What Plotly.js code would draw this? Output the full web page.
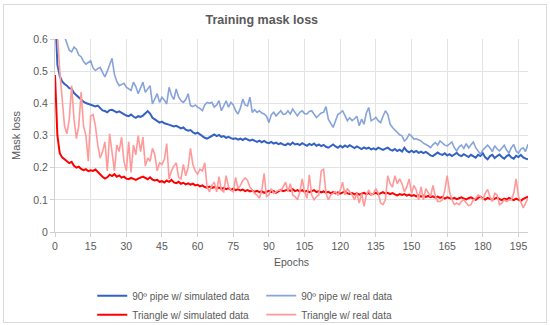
<!DOCTYPE html>
<html>
<head>
<meta charset="utf-8">
<script src="https://cdn.plot.ly/plotly-3.0.1.min.js"></script>
<style>
  html, body { margin: 0; padding: 0; background: #fff; }
  #wrap { position: relative; width: 550px; height: 325px; }
  #chart { width: 550px; height: 325px; }
  #frame { position: absolute; left: 3px; top: 4px; width: 542px; height: 317px; border: 1px solid #D9D9D9; pointer-events: none; }
</style>
</head>
<body>
<div id="wrap"><div id="chart"></div><div id="frame"></div></div>
<script>
// Epoch index 0..199
const epochs = Array.from({length: 200}, (_, i) => i);

const pipeSimulated = [
0.700,0.520,0.485,0.468,0.460,0.455,0.447,0.445,0.432,0.425,
0.420,0.412,0.405,0.401,0.398,0.395,0.392,0.390,0.393,0.385,
0.378,0.376,0.372,0.379,0.380,0.376,0.372,0.375,0.370,0.366,
0.362,0.360,0.365,0.359,0.355,0.360,0.358,0.362,0.370,0.376,
0.368,0.355,0.350,0.345,0.340,0.343,0.338,0.336,0.334,0.332,
0.328,0.330,0.326,0.322,0.325,0.318,0.315,0.317,0.310,0.306,
0.309,0.303,0.297,0.293,0.290,0.295,0.300,0.303,0.298,0.302,
0.296,0.298,0.293,0.296,0.292,0.289,0.291,0.287,0.290,0.286,
0.291,0.288,0.284,0.287,0.283,0.280,0.284,0.279,0.283,0.278,
0.276,0.280,0.275,0.278,0.273,0.276,0.272,0.270,0.275,0.271,
0.278,0.272,0.274,0.270,0.276,0.272,0.268,0.274,0.270,0.275,
0.268,0.272,0.267,0.271,0.265,0.262,0.268,0.272,0.266,0.262,
0.268,0.263,0.269,0.264,0.270,0.265,0.261,0.266,0.262,0.258,
0.263,0.259,0.262,0.257,0.260,0.256,0.262,0.258,0.255,0.259,
0.262,0.256,0.253,0.258,0.252,0.256,0.250,0.262,0.252,0.248,
0.253,0.248,0.252,0.246,0.250,0.245,0.249,0.244,0.238,0.236,
0.243,0.247,0.242,0.240,0.245,0.238,0.242,0.236,0.241,0.246,
0.239,0.236,0.242,0.237,0.233,0.240,0.236,0.231,0.240,0.236,
0.245,0.232,0.226,0.236,0.240,0.230,0.236,0.241,0.233,0.228,
0.236,0.240,0.232,0.228,0.237,0.233,0.240,0.232,0.228,0.226
];

const pipeReal = [
0.800,0.720,0.660,0.630,0.610,0.585,0.565,0.560,0.575,0.568,
0.550,0.545,0.530,0.522,0.528,0.532,0.510,0.502,0.508,0.512,
0.496,0.482,0.500,0.520,0.540,0.490,0.468,0.455,0.458,0.462,
0.450,0.445,0.440,0.466,0.452,0.430,0.448,0.466,0.434,0.445,
0.455,0.398,0.412,0.430,0.403,0.419,0.410,0.398,0.450,0.425,
0.412,0.445,0.420,0.408,0.403,0.412,0.430,0.393,0.390,0.395,
0.388,0.384,0.377,0.395,0.403,0.400,0.403,0.388,0.395,0.408,
0.377,0.392,0.408,0.388,0.403,0.395,0.377,0.367,0.385,0.413,
0.395,0.392,0.419,0.372,0.380,0.372,0.377,0.370,0.367,0.360,
0.340,0.365,0.372,0.361,0.370,0.377,0.366,0.367,0.377,0.367,
0.382,0.370,0.361,0.372,0.377,0.368,0.367,0.375,0.377,0.366,
0.356,0.363,0.370,0.372,0.390,0.351,0.340,0.325,0.345,0.365,
0.370,0.377,0.362,0.346,0.355,0.346,0.352,0.360,0.330,0.351,
0.335,0.370,0.387,0.346,0.350,0.356,0.346,0.340,0.360,0.377,
0.366,0.335,0.325,0.318,0.309,0.302,0.299,0.283,0.290,0.304,
0.298,0.289,0.290,0.286,0.283,0.276,0.273,0.268,0.262,0.272,
0.278,0.270,0.283,0.275,0.270,0.268,0.275,0.280,0.262,0.252,
0.265,0.270,0.260,0.275,0.262,0.270,0.280,0.262,0.252,0.242,
0.255,0.262,0.270,0.262,0.250,0.268,0.258,0.252,0.262,0.270,
0.255,0.245,0.262,0.272,0.252,0.245,0.258,0.262,0.250,0.273
];

const triSimulated = [
0.488,0.300,0.245,0.232,0.226,0.220,0.214,0.218,0.206,0.200,
0.203,0.196,0.192,0.195,0.189,0.192,0.190,0.194,0.186,0.180,
0.172,0.166,0.170,0.178,0.174,0.180,0.172,0.176,0.169,0.172,
0.166,0.164,0.168,0.165,0.162,0.166,0.169,0.172,0.168,0.164,
0.170,0.163,0.160,0.162,0.156,0.158,0.154,0.160,0.156,0.162,
0.154,0.152,0.156,0.150,0.153,0.148,0.151,0.147,0.150,0.145,
0.147,0.142,0.145,0.140,0.138,0.141,0.137,0.140,0.135,0.138,
0.134,0.137,0.133,0.136,0.131,0.135,0.130,0.133,0.129,0.132,
0.127,0.130,0.126,0.129,0.125,0.128,0.124,0.127,0.122,0.125,
0.128,0.124,0.127,0.122,0.126,0.131,0.127,0.130,0.132,0.128,
0.133,0.127,0.130,0.126,0.130,0.125,0.128,0.124,0.127,0.130,
0.124,0.127,0.123,0.126,0.122,0.125,0.121,0.124,0.120,0.123,
0.119,0.122,0.126,0.120,0.118,0.121,0.117,0.120,0.116,0.119,
0.122,0.118,0.121,0.116,0.119,0.122,0.117,0.120,0.124,0.119,
0.122,0.118,0.121,0.117,0.114,0.118,0.115,0.118,0.113,0.116,
0.112,0.115,0.111,0.114,0.110,0.113,0.109,0.112,0.108,0.111,
0.107,0.110,0.106,0.109,0.104,0.108,0.105,0.103,0.106,0.102,
0.105,0.108,0.104,0.101,0.105,0.108,0.104,0.100,0.106,0.110,
0.104,0.101,0.106,0.103,0.100,0.104,0.107,0.102,0.099,0.104,
0.101,0.106,0.102,0.099,0.104,0.100,0.097,0.103,0.107,0.110
];

const triReal = [
0.950,0.620,0.500,0.400,0.330,0.305,0.350,0.455,0.350,0.290,
0.330,0.435,0.330,0.300,0.220,0.360,0.365,0.330,0.270,0.230,
0.250,0.280,0.190,0.305,0.240,0.190,0.270,0.250,0.295,0.220,
0.190,0.280,0.185,0.270,0.240,0.300,0.250,0.295,0.205,0.230,
0.220,0.260,0.240,0.190,0.215,0.210,0.225,0.275,0.165,0.190,
0.205,0.215,0.170,0.165,0.210,0.175,0.200,0.260,0.210,0.190,
0.180,0.195,0.190,0.215,0.140,0.125,0.145,0.155,0.125,0.172,
0.130,0.125,0.175,0.140,0.130,0.125,0.170,0.135,0.145,0.160,
0.168,0.160,0.140,0.130,0.120,0.115,0.105,0.130,0.182,0.110,
0.115,0.135,0.120,0.125,0.130,0.130,0.140,0.155,0.125,0.150,
0.115,0.110,0.100,0.125,0.165,0.125,0.105,0.178,0.115,0.100,
0.110,0.115,0.190,0.195,0.120,0.100,0.115,0.120,0.125,0.115,
0.130,0.155,0.115,0.135,0.125,0.115,0.100,0.120,0.090,0.120,
0.080,0.115,0.130,0.115,0.120,0.135,0.120,0.090,0.085,0.100,
0.175,0.150,0.140,0.175,0.150,0.165,0.150,0.125,0.140,0.165,
0.120,0.145,0.130,0.100,0.140,0.100,0.135,0.120,0.110,0.145,
0.112,0.095,0.095,0.100,0.130,0.175,0.125,0.100,0.085,0.090,
0.085,0.095,0.100,0.090,0.082,0.085,0.100,0.105,0.115,0.110,
0.100,0.120,0.132,0.110,0.095,0.120,0.115,0.085,0.090,0.100,
0.095,0.100,0.100,0.120,0.165,0.110,0.090,0.075,0.090,0.105
];

const seriesNames = [
  '90º pipe w/ simulated data',
  '90º pipe w/ real data',
  'Triangle w/ simulated data',
  'Triangle w/ real data'
];
const xTicks = [0,15,30,45,60,75,90,105,120,135,150,165,180,195];
const yTicks = [0,0.1,0.2,0.3,0.4,0.5,0.6];

const FONT = 'Liberation Sans, Arial, sans-serif';
const GREY = '#595959';

const traces = [
  {x: epochs, y: pipeSimulated, name: seriesNames[0], mode: 'lines',
   line: {color: '#3362C2', width: 2}},
  {x: epochs, y: pipeReal, name: seriesNames[1], mode: 'lines',
   line: {color: '#86A3DB', width: 1.6}},
  {x: epochs, y: triSimulated, name: seriesNames[2], mode: 'lines',
   line: {color: '#FF0000', width: 2}},
  {x: epochs, y: triReal, name: seriesNames[3], mode: 'lines',
   line: {color: '#FF9A9A', width: 1.6}}
];

const layout = {
  width: 550, height: 325,
  margin: {l: 55, r: 22, t: 39, b: 93},
  paper_bgcolor: '#ffffff', plot_bgcolor: '#ffffff',
  font: {family: FONT, color: GREY, size: 10.5},
  title: {text: '<b>Training mask loss</b>', x: 0.476, xanchor: 'center', y: 0.94, yanchor: 'middle',
          font: {family: FONT, size: 12.5, color: GREY}},
  xaxis: {
    range: [0, 199], tickvals: xTicks, ticktext: xTicks.map(String),
    showgrid: true, gridcolor: '#E3E3E3', gridwidth: 1,
    zeroline: false, showline: true, linecolor: '#D0D0D0', linewidth: 1,
    ticks: 'outside', ticklen: 4, tickcolor: '#D0D0D0',
    tickfont: {size: 10.5, color: GREY},
    title: {text: 'Epochs', font: {size: 10.5, color: GREY}, standoff: 8}
  },
  yaxis: {
    range: [0, 0.6], tickvals: yTicks, ticktext: yTicks.map(String),
    showgrid: true, gridcolor: '#E3E3E3', gridwidth: 1,
    zeroline: false, showline: true, linecolor: '#D0D0D0', linewidth: 1,
    ticks: 'outside', ticklen: 4, tickcolor: '#D0D0D0',
    tickfont: {size: 10.5, color: GREY},
    title: {text: 'Mask loss', font: {size: 11, color: GREY}, standoff: 10}
  },
  showlegend: true,
  legend: {
    orientation: 'h', xref: 'container', yref: 'container',
    x: 0.475, xanchor: 'center', y: 0.135, yanchor: 'top',
    font: {size: 10, color: GREY}, entrywidth: 124, entrywidthmode: 'pixels',
    itemwidth: 30, tracegroupgap: 0, bgcolor: 'rgba(0,0,0,0)'
  }
};

Plotly.newPlot('chart', traces, layout, {staticPlot: true, displayModeBar: false});
</script>
</body>
</html>
